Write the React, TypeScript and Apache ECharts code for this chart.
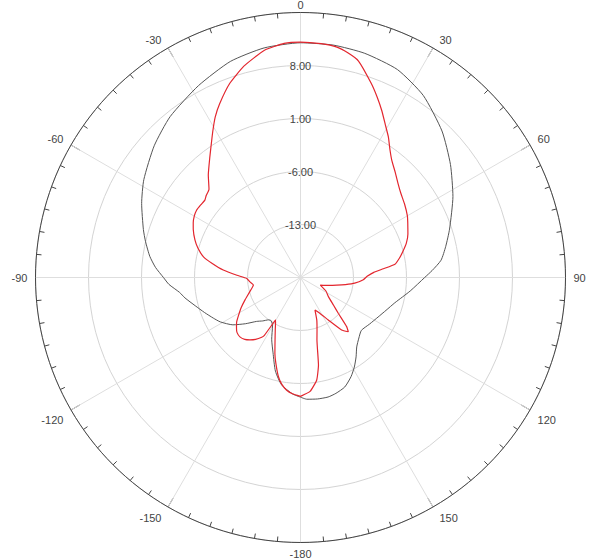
import React, { useEffect, useRef } from "react";
import * as echarts from "echarts";

// Angle tick labels (degrees, 0 at top, clockwise)
const angleLabelValues = [0, 30, 60, 90, 120, 150, 180, 210, 240, 270, 300, 330];

// Radial grid (dB)
const radiusMin = -20;
const radiusMax = 15;
const radiusStep = 7;

// Black trace: angle (deg, -180..180) and level (dB)
const blackAngles = [
  -180, -176, -170, -165, -160, -155, -150, -146, -143, -139, -135, -130, -125, -119, -115, -110,
  -105, -100, -97, -93, -90, -86, -82, -77, -73, -65, -58, -48, -39, -28, -18, -9, 0, 8, 16, 25,
  34, 44, 53, 62, 72, 78, 83, 87, 90, 97, 105, 111, 117, 124, 131, 136, 141, 145, 149, 153, 158,
  163, 167, 172, 177, 180,
];
const blackValues = [
  -4.2, -4.6, -5.6, -7.2, -9.4, -11.0, -12.6, -13.1, -13.0, -12.4, -11.8, -10.5, -9.1, -7.9, -7.3, -6.5,
  -5.6, -4.5, -3.9, -2.6, -1.9, -0.8, 0.1, 1.0, 1.7, 3.15, 4.4, 6.0, 7.35, 8.7, 10.0, 10.7, 11.0, 11.0, 10.8, 10.3,
  9.0, 6.9, 4.8, 2.8, 0.7, -0.4, -1.3, -2.6, -3.6, -5.4, -7.1, -7.9, -8.5, -9.0, -9.35, -8.9, -8.2, -7.2, -6.2, -5.3, -4.4,
  -4.0, -3.8, -3.8, -3.9, -4.2,
];

// Red trace
const redAngles = [
  -180, -176, -173, -170, -167.4, -164, -161.4, -157.8, -154, -151, -149.5, -148, -147, -144, -141, -138,
  -134.4, -131, -128.5, -125, -122, -117, -112, -106, -99, -95, -91, -88, -84.5, -81, -78, -74, -70.4,
  -66, -63, -60, -57, -54, -51, -49, -46, -42, -37, -34, -31, -28, -25, -20, -15, -9, -4, 0, 5, 9, 12,
  15, 20, 23, 26, 29, 32, 35, 38, 42, 46, 50, 55, 60, 63, 68, 72, 76, 79, 82, 84, 86, 89, 92, 96, 99,
  102, 106, 111, 118, 124.6, 130, 133.5, 136.8, 138.6, 141.9, 146.8, 151.4, 156, 159, 162.6, 165.2,
  168.4, 171, 175.2, 180,
];
const redValues = [
  -4.3, -4.6, -5.0, -5.7, -6.6, -8.2, -9.4, -11.1, -12.4, -13.2, -13.5, -11.0, -10.6, -9.9, -9.4, -9.0,
  -8.8, -8.9, -9.2, -9.7, -10.3, -11.2, -12.1, -13.0, -13.7, -13.3, -12.9, -11.6, -9.75, -8.2, -6.9, -5.9, -5.2,
  -4.5, -4.1, -3.8, -3.65, -3.7, -3.75, -3.5, -3.2, -1.8, -0.1, 1.1, 2.5, 4.0, 5.3, 7.3, 8.9, 10.4, 11.0, 11.1, 11.0, 10.8, 10.3,
  9.6, 7.3, 5.9, 4.5, 3.1, 1.9, 0.6, -0.4, -1.3, -2.1, -2.7, -3.2, -3.7, -4.1, -4.7, -5.3, -6.1, -6.7, -7.4, -9.0, -10.3, -11.2, -11.7, -12.8, -14.0,
  -15.1, -16.2, -17.2, -16.2, -15.5, -14.3, -13.1, -11.1, -10.45, -11.2, -13.3, -14.6, -15.3, -14.0, -12.7, -11.5,
  -8.2, -6.3, -4.9, -4.3,
];

const toPolar = (angles: number[], values: number[]) =>
  angles.map((a, i) => [values[i], (a + 360) % 360]);

export default function App() {
  const ref = useRef<HTMLDivElement>(null);

  useEffect(() => {
    if (!ref.current) return;
    const chart = echarts.init(ref.current, undefined, { renderer: "svg" });
    chart.setOption({
      animation: false,
      backgroundColor: "#ffffff",
      textStyle: { fontFamily: "'Liberation Sans', Arial, sans-serif" },
      polar: { center: [300.5, 277.5], radius: 265 },
      angleAxis: {
        type: "value",
        min: 0,
        max: 360,
        interval: 30,
        startAngle: 90,
        clockwise: true,
        axisLine: { show: true, lineStyle: { color: "#444", width: 1 } },
        axisTick: { show: true, inside: true, length: 10, lineStyle: { color: "#444", width: 1 } },
        minorTick: { show: true, splitNumber: 6, length: 5, lineStyle: { color: "#444", width: 1 } },
        axisLabel: {
          margin: 3,
          lineHeight: 10,
          padding: [3, 5, 0, 5],
          color: "#444",
          fontSize: 11,
          formatter: (v: number) => {
            if (v >= 360) return "";
            if (!angleLabelValues.includes(v)) return "";
            return String(v >= 180 ? v - 360 : v);
          },
        },
        splitLine: { show: true, lineStyle: { color: "#dedede", width: 1 } },
      },
      radiusAxis: {
        type: "value",
        min: radiusMin,
        max: radiusMax,
        interval: radiusStep,
        axisLine: { show: false },
        axisTick: { show: false },
        axisLabel: {
          margin: 0,
          align: "center",
          verticalAlign: "middle",
          padding: [0, 0, 4, 0],
          color: "#444",
          fontSize: 11,
          formatter: (v: number) => (v <= radiusMin || v >= radiusMax ? "" : v.toFixed(2)),
        },
        splitLine: { show: true, lineStyle: { color: "#d4d4d4", width: 1 } },
      },
      series: [
        {
          type: "line",
          coordinateSystem: "polar",
          showSymbol: false,
          symbol: "none",
          smooth: 0.2,
          data: toPolar(blackAngles, blackValues),
          lineStyle: { color: "#555555", width: 1 },
          z: 2,
        },
        {
          type: "line",
          coordinateSystem: "polar",
          showSymbol: false,
          symbol: "none",
          smooth: 0.15,
          data: toPolar(redAngles, redValues),
          lineStyle: { color: "#e3262e", width: 1.2 },
          z: 3,
        },
      ],
    });
    return () => chart.dispose();
  }, []);

  return (
    <div
      ref={ref}
      style={{ position: "fixed", left: 0, top: 0, width: 589, height: 558 }}
    />
  );
}
